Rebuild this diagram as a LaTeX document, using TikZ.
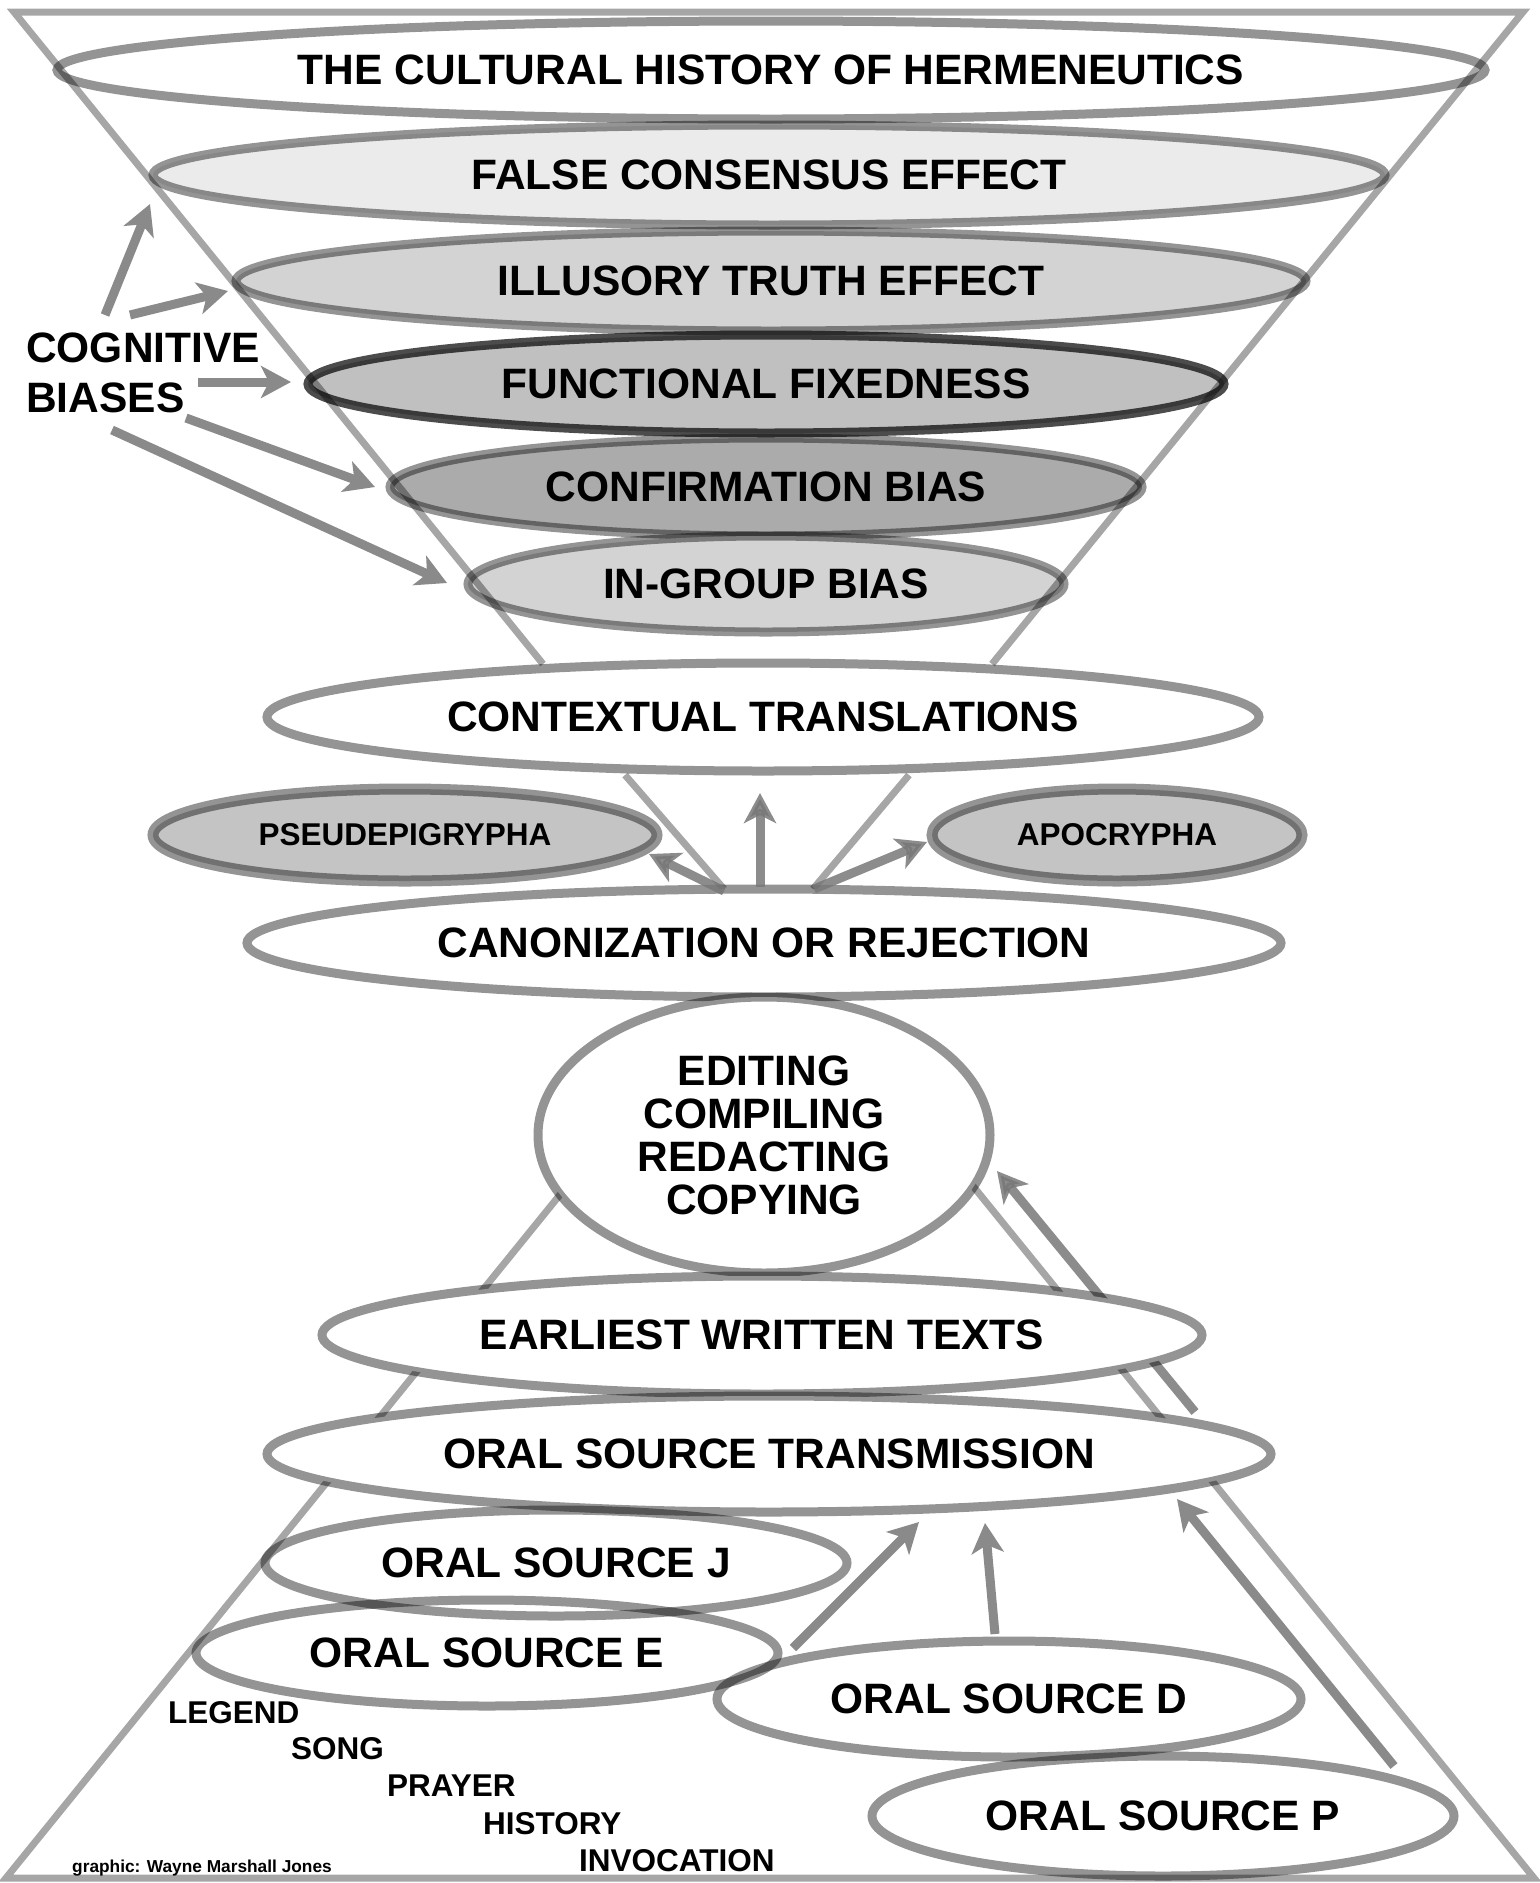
\documentclass[tikz,border=0pt]{standalone}
\usepackage{fontspec}
\setmainfont{Liberation Sans}
\usetikzlibrary{arrows.meta,shapes.geometric}
\definecolor{fillA}{HTML}{EBEBEB}
\definecolor{fillB}{HTML}{D3D3D3}
\definecolor{fillC}{HTML}{C0C0C0}
\definecolor{fillD}{HTML}{ABABAB}
\definecolor{fillE}{HTML}{C4C4C4}
\definecolor{arrgray}{HTML}{8A8A8A}
\definecolor{arrdark}{HTML}{787878}
\begin{document}
\begin{tikzpicture}[x=1pt,y=-1pt,
  lbl/.style={font=\bfseries\fontsize{42.5}{43}\selectfont, align=center},
  sml/.style={font=\bfseries\fontsize{31.5}{32}\selectfont, inner sep=0pt},
  ell/.style={ellipse, inner sep=0pt, draw=black, draw opacity=0.42, line width=9pt, fill=white, lbl},
  oval/.style={ellipse, inner sep=0pt, draw=black, draw opacity=0.42, line width=9pt, lbl},
  tag/.style={ellipse, inner sep=0pt, draw=black, draw opacity=0.42, line width=11pt, fill=fillE, font=\bfseries\fontsize{31.5}{32}\selectfont},
  funnel/.style={draw=black, draw opacity=0.35, line width=7pt},
  arr/.style={draw=arrgray, line width=9pt, -{Stealth[length=30pt,width=32pt,inset=8pt]}},
  arrd/.style={draw=arrdark, draw opacity=0.85, fill opacity=0.85, line width=9pt, -{Stealth[length=30pt,width=32pt,inset=8pt]}}
]
\useasboundingbox (0,0) rectangle (1540,1883);
\fill[white] (0,0) rectangle (1540,1883);

% top funnel ellipses
\node[ell, minimum width=1428pt, minimum height=98pt] (hist) at (771,70) {THE CULTURAL HISTORY OF HERMENEUTICS};
\node[ell, fill=fillA, minimum width=1232pt, minimum height=100pt] (fce) at (769,175) {FALSE CONSENSUS EFFECT};
\node[ell, fill=fillB, minimum width=1070pt, minimum height=100pt] (ite) at (771,281) {ILLUSORY TRUTH EFFECT};
\node[ell, fill=fillC, draw opacity=0.7, minimum width=916pt, minimum height=98pt] (ff) at (766,384) {FUNCTIONAL FIXEDNESS};
\node[ell, fill=fillD, minimum width=752pt, minimum height=98pt] (cb) at (766,487) {CONFIRMATION BIAS};
\node[ell, fill=fillB, minimum width=596pt, minimum height=96pt] (igb) at (766,584) {IN-GROUP BIAS};

% funnel
\coordinate (ftl) at (14,12);
\coordinate (ftr) at (1523,12);
\coordinate (fbl) at (543,664);
\coordinate (fbr) at (992,664);
\draw[funnel] (fbl) -- (ftl) -- (ftr) -- (fbr);

% small funnel
\coordinate (sf1) at (625,775);
\coordinate (sf2) at (724,889);
\coordinate (sf3) at (909,775);
\coordinate (sf4) at (813,889);
\draw[funnel] (sf1) -- (sf2);
\draw[funnel] (sf3) -- (sf4);

% bottom pyramid
\coordinate (pa) at (580,1170);
\coordinate (pbl) at (6,1878);
\coordinate (pbr) at (1534,1878);
\coordinate (pb) at (960,1170);
\draw[funnel] (pa) -- (pbl) -- (pbr) -- (pb);

% arrow to editing (passes under earliest texts)
\coordinate (ea0) at (1195,1412);
\coordinate (ea1) at (997,1171);
\draw[arrd] (ea0) -- (ea1);

% middle ellipses
\node[ell, minimum width=992pt, minimum height=108pt] (ct) at (763,717) {CONTEXTUAL TRANSLATIONS};
\node[tag, minimum width=504pt, minimum height=92pt] (pse) at (405,835) {PSEUDEPIGRYPHA};
\node[tag, minimum width=370pt, minimum height=92pt] (apo) at (1117,835) {APOCRYPHA};
\node[ell, minimum width=1034pt, minimum height=108pt] (can) at (764,943) {CANONIZATION OR REJECTION};
\node[ell, minimum width=452pt, minimum height=276pt] (edit) at (764,1135) {EDITING\\COMPILING\\REDACTING\\COPYING};
\node[ell, minimum width=880pt, minimum height=118pt] (ewt) at (762,1335) {EARLIEST WRITTEN TEXTS};
\node[ell, minimum width=1004pt, minimum height=116pt] (ost) at (769,1454) {ORAL SOURCE TRANSMISSION};
\node[oval, minimum width=582pt, minimum height=106pt] (osj) at (556,1563) {ORAL SOURCE J};
\node[oval, minimum width=582pt, minimum height=106pt] (ose) at (487,1653) {ORAL SOURCE E};
\node[oval, minimum width=584pt, minimum height=116pt] (osd) at (1009,1699) {ORAL SOURCE D};
\node[oval, minimum width=582pt, minimum height=120pt] (osp) at (1163,1816) {ORAL SOURCE P};

% cognitive biases
\node[font=\bfseries\fontsize{42.5}{50}\selectfont, align=left, anchor=west, inner sep=0pt] (cog) at (26,373) {COGNITIVE\\BIASES};
\coordinate (c1a) at (105,315); \coordinate (c1b) at (150,204);
\coordinate (c2a) at (130,315); \coordinate (c2b) at (228,291);
\coordinate (c3a) at (198,382); \coordinate (c3b) at (291,382);
\coordinate (c4a) at (186,418); \coordinate (c4b) at (375,487);
\coordinate (c5a) at (112,430); \coordinate (c5b) at (447,583);
\draw[arr] (c1a) -- (c1b);
\draw[arr] (c2a) -- (c2b);
\draw[arr] (c3a) -- (c3b);
\draw[arr] (c4a) -- (c4b);
\draw[arr] (c5a) -- (c5b);

% middle arrows
\coordinate (m1a) at (724,891); \coordinate (m1b) at (649,854);
\coordinate (m2a) at (760,887); \coordinate (m2b) at (760,793);
\coordinate (m3a) at (814,889); \coordinate (m3b) at (927,842);
\draw[arrd] (m1a) -- (m1b);
\draw[arrd] (m2a) -- (m2b);
\draw[arrd] (m3a) -- (m3b);

% bottom arrows
\coordinate (b1a) at (793,1648); \coordinate (b1b) at (919,1522);
\coordinate (b2a) at (995,1634); \coordinate (b2b) at (985,1523);
\coordinate (b3a) at (1394,1766); \coordinate (b3b) at (1177,1499);
\draw[arr] (b1a) -- (b1b);
\draw[arr] (b2a) -- (b2b);
\draw[arr] (b3a) -- (b3b);

% oral genres
\node[sml, anchor=west] (leg) at (168,1713) {LEGEND};
\node[sml, anchor=west] (song) at (291,1749) {SONG};
\node[sml, anchor=west] (pray) at (387,1786) {PRAYER};
\node[sml, anchor=west] (hist2) at (483,1824) {HISTORY};
\node[sml, anchor=west] (invo) at (579,1861) {INVOCATION};
\node[font=\bfseries\fontsize{17.3}{18}\selectfont, anchor=base west, inner sep=0pt] (credit) at (72,1872) {graphic: Wayne Marshall Jones};
\end{tikzpicture}
\end{document}
